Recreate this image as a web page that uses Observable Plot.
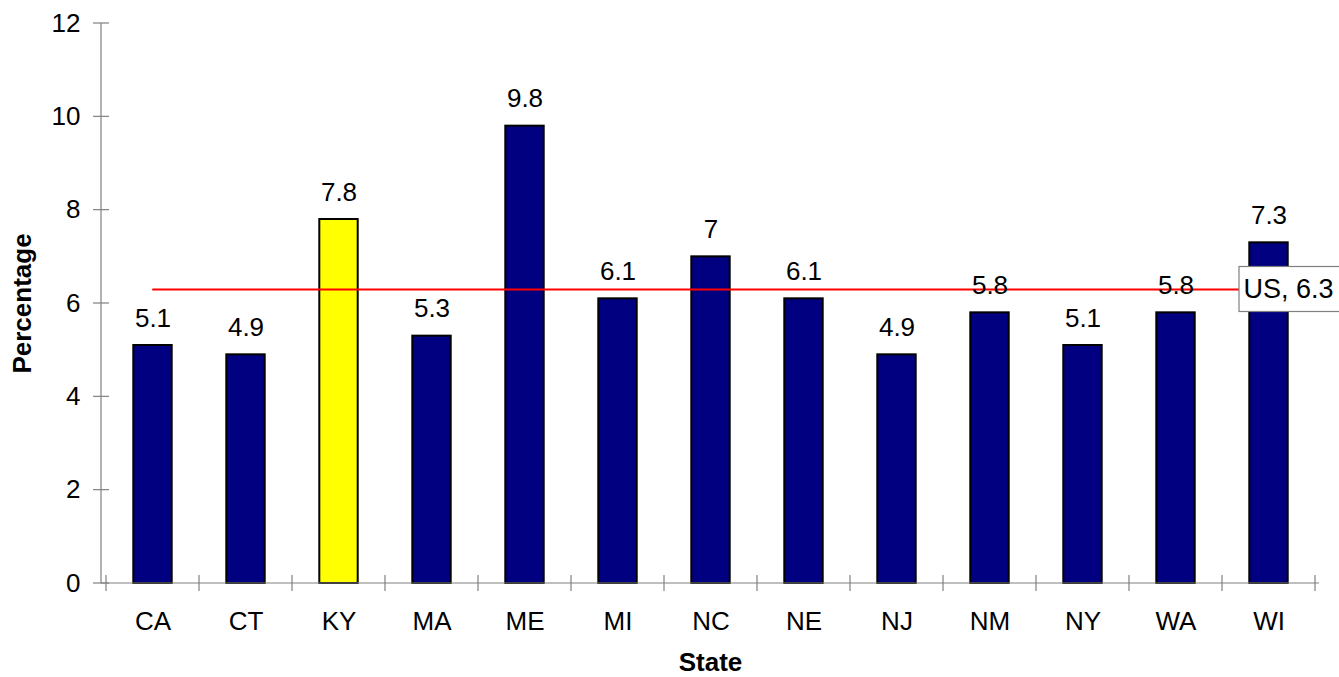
<!DOCTYPE html>
<html>
<head>
<meta charset="utf-8">
<script src="https://cdn.jsdelivr.net/npm/d3@7"></script>
<script src="https://cdn.jsdelivr.net/npm/@observablehq/plot@0.6"></script>
<style>
  html, body { margin: 0; padding: 0; background: #fff; }
  svg { display: block; }
</style>
</head>
<body>
<div id="chart"></div>
<script>
// Percentage by state, with the national (US) figure as a reference line
const states = ["CA", "CT", "KY", "MA", "ME", "MI", "NC", "NE", "NJ", "NM", "NY", "WA", "WI"];
const rates = [5.1, 4.9, 7.8, 5.3, 9.8, 6.1, 7, 6.1, 4.9, 5.8, 5.1, 5.8, 7.3];
const highlightState = "KY";
const usRate = 6.3;
const usLabel = "US, 6.3";
const yTicks = [0, 2, 4, 6, 8, 10, 12];
const xTitle = "State";
const yTitle = "Percentage";

const data = states.map((state, i) => ({state, rate: rates[i]}));
const usLine = [states[0], states[states.length - 1]].map(state => ({state, rate: usRate}));

const font = "'Liberation Sans', Arial, Helvetica, sans-serif";
const axisColor = "#808080";

// Axis lines with ticks that cross the line (y ticks at values, x ticks at band edges)
function axisLines(index, scales, values, dims) {
  const {x, y} = scales;
  const left = dims.marginLeft;
  const right = dims.width - dims.marginRight;
  const y0 = y(0);
  const bw = x.bandwidth();
  const g = d3.create("svg:g")
    .attr("stroke", axisColor)
    .attr("stroke-width", 1.2)
    .attr("fill", "none");
  g.append("line").attr("x1", left).attr("x2", left).attr("y1", y(yTicks[yTicks.length - 1])).attr("y2", y0);
  g.append("line").attr("x1", left).attr("x2", right).attr("y1", y0).attr("y2", y0);
  for (const t of yTicks) {
    g.append("line").attr("x1", left - 8).attr("x2", left + 8).attr("y1", y(t)).attr("y2", y(t));
  }
  const edges = states.map(s => x(s)).concat([x(states[states.length - 1]) + bw]);
  for (const e of edges) {
    g.append("line").attr("x1", e).attr("x2", e).attr("y1", y0 - 8).attr("y2", y0 + 8);
  }
  return g.node();
}

// Boxed label at the end of the US line
function usCallout(index, scales) {
  const {x, y} = scales;
  const last = states[states.length - 1];
  const cx = x(last) + x.bandwidth() / 2;
  const cy = y(usRate);
  const g = d3.create("svg:g");
  g.append("rect")
    .attr("x", cx - 29.5).attr("y", cy - 22.5)
    .attr("width", 120).attr("height", 45)
    .attr("fill", "white").attr("stroke", axisColor).attr("stroke-width", 1.2);
  g.append("text")
    .attr("x", cx - 25).attr("y", cy).attr("dy", "0.35em")
    .attr("text-anchor", "start")
    .attr("font-family", font).attr("font-size", 27).attr("fill", "black")
    .text(usLabel);
  return g.node();
}

const chart = Plot.plot({
  width: 1339,
  height: 677,
  marginLeft: 101,
  marginRight: 20,
  marginTop: 23,
  marginBottom: 94,
  style: {fontFamily: font, fontSize: "26px", background: "white", color: "black"},
  x: {domain: states, padding: 0, label: null},
  y: {domain: [0, 12], label: null},
  color: {type: "identity"},
  marks: [
    Plot.barY(data, {
      x: "state",
      y: "rate",
      fill: d => d.state === highlightState ? "#ffff00" : "#000080",
      stroke: "black",
      strokeWidth: 2,
      insetLeft: 27.3,
      insetRight: 27.3
    }),
    Plot.lineY(usLine, {x: "state", y: "rate", stroke: "#ff0000", strokeWidth: 2}),
    Plot.text(data, {
      x: "state",
      y: "rate",
      text: d => String(d.rate),
      lineAnchor: "bottom",
      dy: -19,
      fill: "black",
      fontSize: 26
    }),
    axisLines,
    Plot.axisY({ticks: yTicks, tickSize: 0, tickPadding: 21, fontSize: 26, fill: "black", label: null}),
    Plot.axisX({tickSize: 0, tickPadding: 28, fontSize: 26, fill: "black", label: null}),
    Plot.text([xTitle], {frameAnchor: "bottom", lineAnchor: "middle", textAnchor: "middle", dy: 79, fontWeight: "bold", fontSize: 26, fill: "black"}),
    Plot.text([yTitle], {frameAnchor: "left", lineAnchor: "middle", textAnchor: "middle", dx: -78.5, rotate: -90, fontWeight: "bold", fontSize: 26, fill: "black"}),
    usCallout
  ]
});

document.getElementById("chart").append(chart);
</script>
</body>
</html>
